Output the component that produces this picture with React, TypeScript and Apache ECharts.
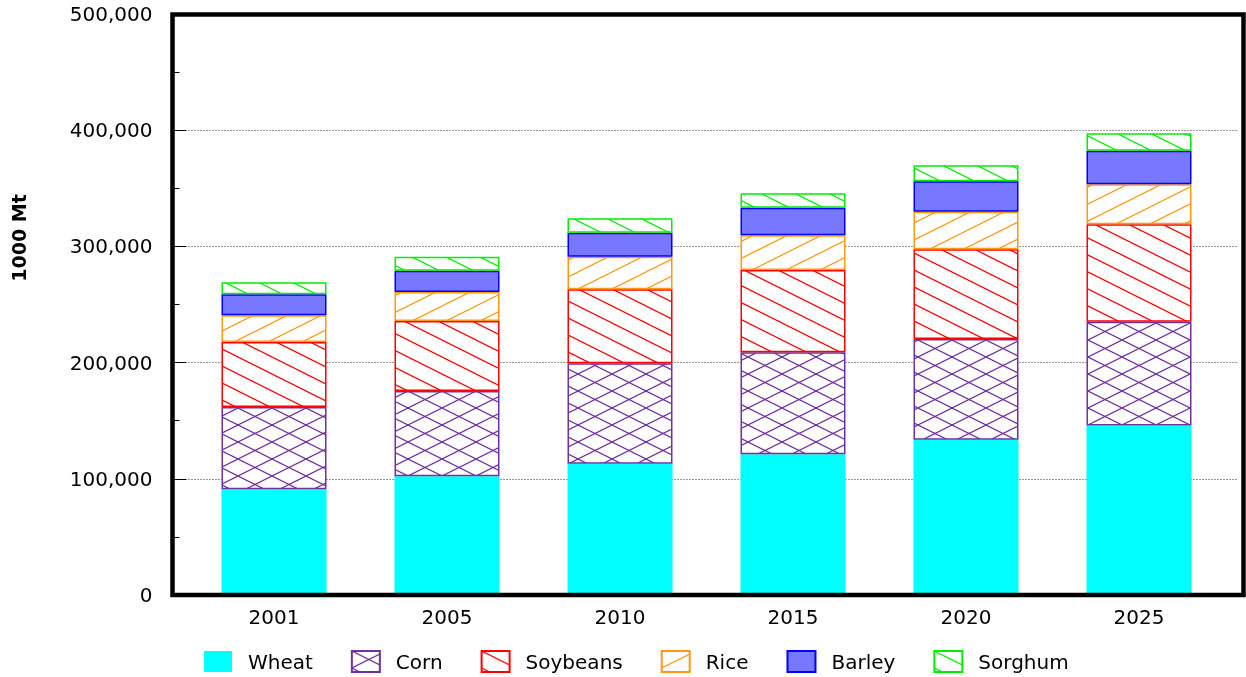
import React, { useEffect, useRef } from "react";
import * as echarts from "echarts";

const years = ["2001", "2005", "2010", "2015", "2020", "2025"];
const wheat = [91000, 102200, 113000, 121100, 133700, 145900];
const corn = [70800, 73400, 86400, 87800, 86600, 89300];
const soybeans = [55900, 60200, 63700, 70800, 77200, 83800];
const rice = [23000, 25000, 28000, 29800, 32400, 34400];
const barley = [18100, 18300, 20700, 23800, 26100, 29000];
const sorghum = [10300, 12000, 12400, 12400, 13800, 14900];
const yTicks = [0, 100000, 200000, 300000, 400000, 500000];

const FONT = "DejaVu Sans";

function hatch(color: string, dirs: string[]) {
  const W = 34;
  const H = 17;
  const c = document.createElement("canvas");
  c.width = W;
  c.height = H;
  const ctx = c.getContext("2d")!;
  ctx.fillStyle = "#ffffff";
  ctx.fillRect(0, 0, W, H);
  ctx.strokeStyle = color;
  ctx.lineWidth = 1.2;
  for (const d of dirs) {
    for (const k of [-1, 0, 1, 2]) {
      const cst = k * H;
      ctx.beginPath();
      if (d === "back") {
        ctx.moveTo(-W, cst - H);
        ctx.lineTo(2 * W, cst + 2 * H);
      } else {
        ctx.moveTo(-W, cst + H);
        ctx.lineTo(2 * W, cst - 2 * H);
      }
      ctx.stroke();
    }
  }
  return { image: c, repeat: "repeat", imageWidth: W, imageHeight: H } as any;
}

export default function App() {
  const ref = useRef<HTMLDivElement>(null);
  useEffect(() => {
    const chart = echarts.init(ref.current!, null, { renderer: "svg" });
    const mk = (
      name: string,
      data: number[],
      color: any,
      border: string,
      bw: number
    ) => ({
      name,
      type: "bar",
      stack: "total",
      barWidth: 105,
      data,
      itemStyle: { color, borderColor: border, borderWidth: bw },
    });
    chart.setOption({
      animation: false,
      grid: [
        { left: 187.5, right: 20.5, top: 14, bottom: 82 },
        { left: 188, right: 9, top: 14, bottom: 82 },
      ],
      legend: {
        left: 199,
        top: 645,
        icon: "rect",
        itemWidth: 28,
        itemHeight: 21,
        itemGap: 38,
        textStyle: {
          fontFamily: FONT,
          fontSize: 20,
          color: "#000",
          padding: [0, 0, 0, 11],
        },
        data: ["Wheat", "Corn", "Soybeans", "Rice", "Barley", "Sorghum"],
      },
      xAxis: [
        {
          type: "category",
          data: years,
          gridIndex: 0,
          axisLine: { show: false },
          axisTick: {
            show: true,
            inside: true,
            length: 11,
            alignWithLabel: true,
            lineStyle: { color: "#000", width: 1 },
          },
          axisLabel: {
            fontFamily: FONT,
            fontSize: 20,
            color: "#000",
            margin: 12,
          },
        },
        { type: "value", gridIndex: 1, min: 0, max: 1, show: false },
      ],
      yAxis: [
        {
          type: "value",
          gridIndex: 0,
          min: yTicks[0],
          max: yTicks[yTicks.length - 1],
          interval: yTicks[1] - yTicks[0],
          offset: 15,
          axisLine: { show: false },
          axisTick: {
            show: true,
            inside: true,
            length: 14,
            lineStyle: { color: "#000", width: 1 },
          },
          minorTick: {
            show: true,
            splitNumber: 2,
            length: 7,
            lineStyle: { color: "#000", width: 1 },
          },
          splitLine: { show: false },
          axisLabel: {
            fontFamily: FONT,
            fontSize: 20,
            color: "#000",
            margin: 20,
            formatter: (v: number) => v.toLocaleString("en-US"),
          },
        },
        {
          type: "value",
          gridIndex: 1,
          min: yTicks[0],
          max: yTicks[yTicks.length - 1],
          interval: yTicks[1] - yTicks[0],
          axisLine: { show: false },
          axisTick: { show: false },
          axisLabel: { show: false },
          splitLine: {
            show: true,
            lineStyle: { color: "#9a9a9a", width: 1, type: [2, 1] },
          },
        },
      ],
      graphic: [
        {
          type: "rect",
          z: 100,
          shape: { x: 172.5, y: 14.5, width: 1071, height: 580.5 },
          style: { fill: "none", stroke: "#000", lineWidth: 4.5 },
        },
        {
          type: "text",
          x: 19,
          y: 238,
          rotation: Math.PI / 2,
          style: {
            text: "1000 Mt",
            fontSize: 19,
            fontWeight: "bold",
            fontFamily: "DejaVu Sans",
            align: "center",
            verticalAlign: "middle",
            fill: "#000",
          },
        },
      ],
      series: [
        mk("Wheat", wheat, "#00ffff", "#00ffff", 0),
        mk("Corn", corn, hatch("#7030a0", ["back", "fwd"]), "#7030a0", 1.5),
        mk("Soybeans", soybeans, hatch("#ff0000", ["back"]), "#ff0000", 1.5),
        mk("Rice", rice, hatch("#ff9911", ["fwd"]), "#ff9911", 1.5),
        mk("Barley", barley, "#7777ff", "#0000ff", 1.5),
        mk("Sorghum", sorghum, hatch("#00ee00", ["back"]), "#00ee00", 1.5),
      ],
    });
    return () => chart.dispose();
  }, []);
  return (
    <div
      ref={ref}
      style={{ position: "fixed", left: 0, top: 0, width: 1246, height: 677 }}
    />
  );
}
